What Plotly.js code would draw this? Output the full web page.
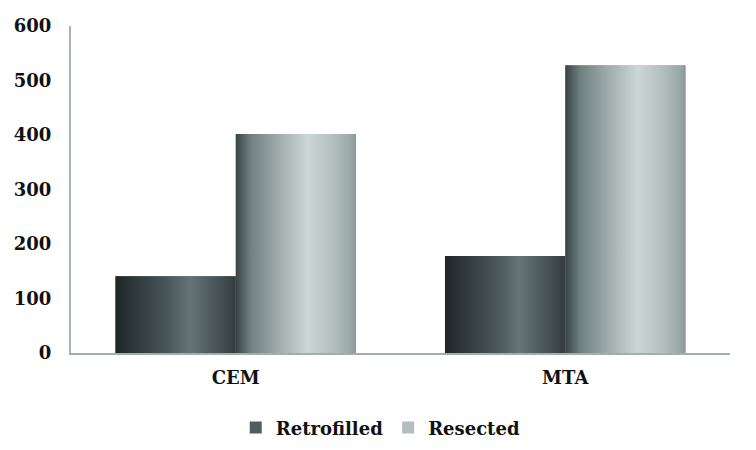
<!DOCTYPE html>
<html>
<head>
<meta charset="utf-8">
<script src="https://cdn.plot.ly/plotly-3.0.1.min.js"></script>
<style>html,body{margin:0;padding:0;background:#fff;}#chart{width:756px;height:450px;}</style>
</head>
<body>
<div id="chart"></div>
<script>
const categories = ["CEM", "MTA"];
const retrofilled = [141, 178];
const resected = [402, 528];
const seriesNames = ["Retrofilled", "Resected"];
const yTicks = [0, 100, 200, 300, 400, 500, 600];

const FONT = "DejaVu Serif, Liberation Serif, serif";
const bargap = 0.27;
const bw = (1 - bargap) / 2;

const darkScale = [[0,'#1f2527'],[0.2,'#323c3e'],[0.45,'#4c595c'],[0.62,'#667478'],[0.8,'#4d5a5d'],[1,'#333d3f']];
const lightScale = [[0,'#384244'],[0.12,'#6f7e7f'],[0.35,'#9eabab'],[0.6,'#ccd6d6'],[0.82,'#b2bebe'],[0.95,'#9aa8a8'],[1,'#8a9898']];

const traces = [
  {type:'bar', x:[0,1], y:retrofilled, name:seriesNames[0], marker:{color:'#505c60'}, offset:-bw, width:bw, hoverinfo:'y'},
  {type:'bar', x:[0,1], y:resected, name:seriesNames[1], marker:{color:'#b4bebe'}, offset:0, width:bw, hoverinfo:'y'}
];

// gradient overlays (computed from the data arrays)
function addOverlay(vals, off, scale) {
  vals.forEach((v, i) => {
    const x0 = i + off, x1 = i + off + bw;
    traces.push({
      type:'scatter', mode:'lines', x:[x0,x1,x1,x0,x0], y:[0,0,v,v,0],
      fill:'toself', line:{width:0}, showlegend:false, hoverinfo:'skip',
      fillgradient:{type:'horizontal', colorscale:scale}
    });
  });
}
addOverlay(retrofilled, -bw, darkScale);
addOverlay(resected, 0, lightScale);

const layout = {
  width:756, height:450,
  margin:{l:71, r:26, t:26, b:97, autoexpand:false},
  paper_bgcolor:'#fff', plot_bgcolor:'#fff',
  barmode:'group', bargap:bargap, bargroupgap:0,
  font:{family:FONT, color:'#111', size:18},
  xaxis:{
    range:[-0.5,1.5], tickvals:[0,1], ticktext:categories,
    showgrid:false, zeroline:false, showline:true, linecolor:'#a2adad', linewidth:2,
    ticks:'outside', ticklen:7, tickcolor:'rgba(0,0,0,0)',
    tickfont:{family:FONT, size:18, color:'#111', weight:'bold'}
  },
  yaxis:{
    range:[0,600], tickvals:yTicks, showgrid:false, zeroline:false,
    showline:true, linecolor:'#a8b4b4', linewidth:2,
    ticks:'outside', ticklen:14, tickcolor:'rgba(0,0,0,0)',
    tickfont:{family:FONT, size:18, color:'#111', weight:'bold'}
  },
  showlegend:true,
  legend:{orientation:'h', x:0.47, xanchor:'center', y:-0.229, yanchor:'middle',
    font:{family:FONT, size:18, color:'#111', weight:'bold'}, itemwidth:30,
    traceorder:'normal'}
};

Plotly.newPlot('chart', traces, layout, {displayModeBar:false, staticPlot:true});
</script>
</body>
</html>
